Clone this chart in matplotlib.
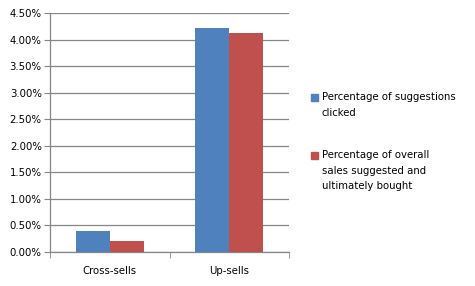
import matplotlib
matplotlib.use("Agg")
import matplotlib.pyplot as plt
import numpy as np
from matplotlib.ticker import FuncFormatter, FixedLocator
from matplotlib.patches import Rectangle

categories = ["Cross-sells", "Up-sells"]
clicked = [0.40, 4.22]
bought = [0.20, 4.12]
series_names = ["Percentage of suggestions\nclicked",
                "Percentage of overall\nsales suggested and\nultimately bought"]
colors = ["#4F81BD", "#C0504D"]

plt.rcParams['font.family'] = ['DejaVu Sans']
fs = 7.3
fig = plt.figure(figsize=(4.75, 2.86), dpi=100)
ax = fig.add_axes([50/475, 1-252/286, 239/475, 239/286])

x = np.arange(len(categories))
w = 34/119.5
b1 = ax.bar(x - w/2, clicked, w, color=colors[0], zorder=3)
b2 = ax.bar(x + w/2, bought, w, color=colors[1], zorder=3)

ax.set_xlim(-0.5, 1.5)
ax.set_ylim(0, 4.5)
ax.set_yticks(np.arange(0, 4.51, 0.5))
ax.yaxis.set_major_formatter(FuncFormatter(lambda v, p: f"{v:.2f}%"))
ax.yaxis.grid(True, color="#868686", linewidth=0.9, zorder=0)
ax.set_xticks(x)
ax.set_xticklabels(categories)
ax.xaxis.set_minor_locator(FixedLocator([-0.5, 0.5, 1.5]))
ax.tick_params(axis='x', which='major', length=0, pad=10, labelsize=fs)
ax.tick_params(axis='x', which='minor', length=4, color="#868686", direction='out')
ax.tick_params(axis='y', length=4, color="#868686", labelsize=fs, pad=2)
for s in ['top', 'right']:
    ax.spines[s].set_visible(False)
for s in ['left', 'bottom']:
    ax.spines[s].set_color("#868686")
    ax.spines[s].set_linewidth(0.9)

# legend drawn manually: square aligned with first text line
W, H = 475, 286
for name, col, ytop in zip(series_names, colors, [92, 150]):
    fig.patches.append(Rectangle((311/W, 1-(ytop+9)/H), 7/W, 7/H,
                                 transform=fig.transFigure, color=col))
    fig.text(322/W, 1-ytop/H, name, fontsize=fs, va='top', ha='left',
             linespacing=1.7)

fig.savefig("out.png", dpi=100)
